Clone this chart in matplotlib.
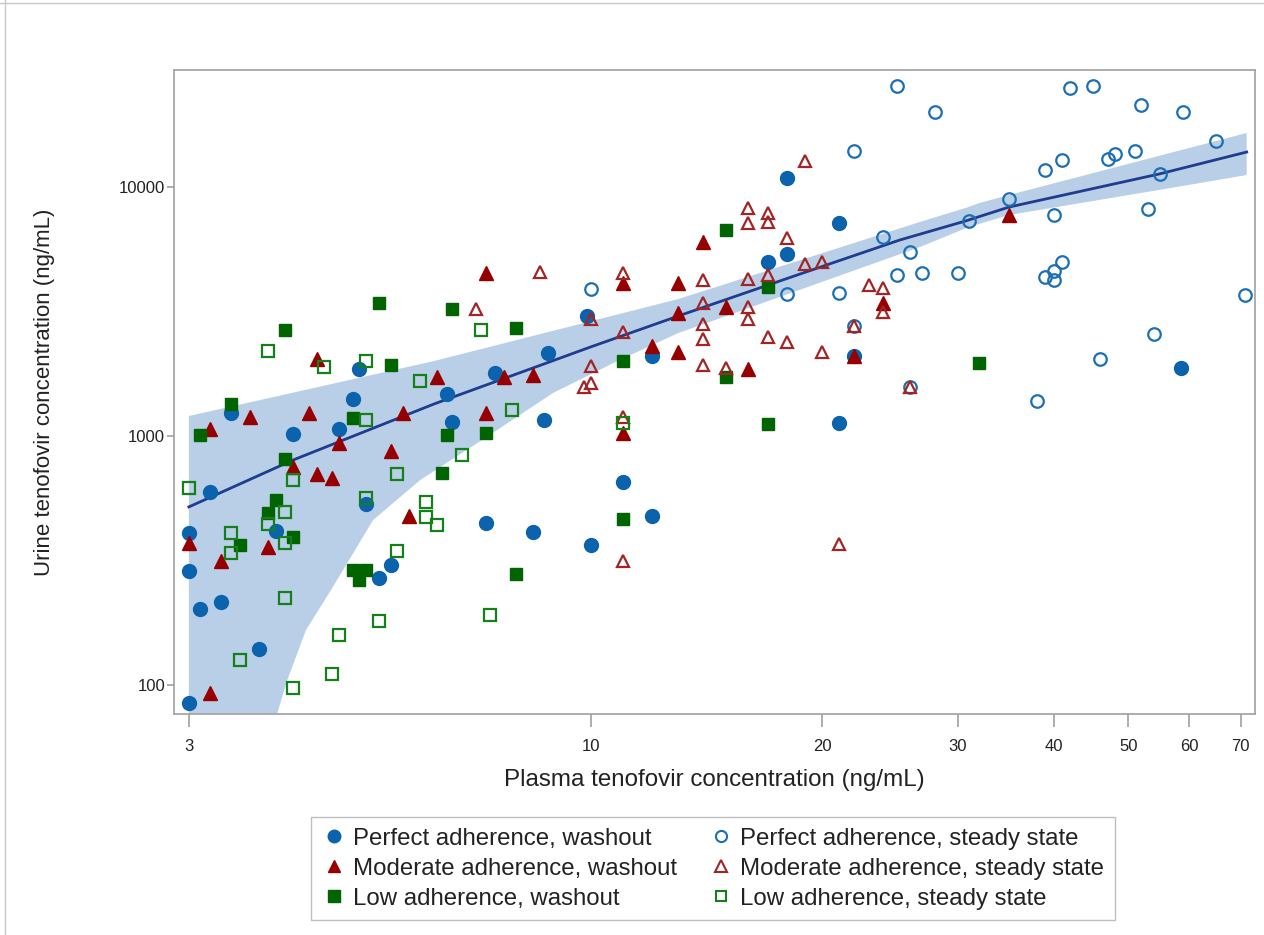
import numpy as np
import matplotlib.pyplot as plt
from matplotlib.lines import Line2D

plt.rcParams['font.family'] = ['Liberation Sans', 'DejaVu Sans']

# perfect adherence, washout (filled circles)
pw_x = [3.0, 3.0, 3.0, 3.1, 3.2, 3.3, 3.4, 3.7, 3.9, 4.1, 4.7, 4.9, 5.0, 5.1, 5.3, 5.5,
        6.5, 6.6, 7.3, 7.5, 8.4, 8.7, 8.8, 9.9, 10, 11, 12, 12, 17, 18, 18, 21, 21, 22, 58.6]
pw_y = [85, 287, 408, 202, 596, 215, 1237, 140, 415, 1019, 1067, 1409, 1858, 533, 269, 303,
        1476, 1138, 448, 1791, 411, 1160, 2154, 3033, 365, 653, 477, 2096, 5000, 5380, 10870,
        7170, 1128, 2096, 1875]

# perfect adherence, steady state (open circles)
ps_x = [10, 18, 21, 22, 22, 24, 25, 25, 26, 26, 27, 28, 30, 31, 35, 38, 39, 39, 40, 40, 40,
        41, 41, 42, 45, 46, 47, 48, 51, 52, 53, 54, 55, 59, 65, 71]
ps_y = [3895, 3718, 3753, 13950, 2766, 6300, 25400, 4430, 5480, 1574, 4520, 20000, 4520, 7300,
        8950, 1383, 11700, 4350, 7720, 4600, 4230, 12830, 5000, 25000, 25400, 2038, 12950,
        13570, 13950, 21300, 8160, 2570, 11270, 20000, 15300, 3684]

# moderate adherence, washout (filled triangles)
mw_x = [3.0, 3.2, 3.2, 3.3, 3.6, 3.8, 4.1, 4.3, 4.4, 4.4, 4.6, 4.7, 5.5, 5.7, 5.8, 6.3, 7.3,
        7.3, 7.7, 8.4, 11, 11, 12, 13, 13, 13, 14, 15, 16, 22, 24, 35]
mw_y = [372, 1067, 93, 315, 1192, 358, 751, 1237, 2038, 704, 678, 938, 871, 1237, 477, 1726,
        4520, 1237, 1726, 1758, 4115, 1028, 2298, 4115, 3119, 2175, 6010, 3300, 1858, 2096,
        3420, 7720]

# moderate adherence, steady state (open triangles)
ms_x = [7.1, 8.6, 9.8, 10, 10, 10, 11, 11, 11, 11, 14, 14, 14, 14, 14, 15, 16, 16, 16, 16, 16,
        17, 17, 17, 17, 18, 18, 19, 19, 20, 20, 21, 22, 23, 24, 24, 26]
ms_y = [3236, 4560, 1574, 2950, 1910, 1633, 4520, 2617, 1192, 315, 4230, 3420, 2818, 2452, 1928,
        1875, 8235, 7170, 4270, 3300, 2950, 7860, 7240, 4430, 2500, 6240, 2386, 12720, 4910,
        5000, 2175, 368, 2766, 4040, 3930, 3147, 1574]

# low adherence, washout (filled squares)
lw_x = [3.1, 3.4, 3.5, 3.8, 3.9, 4.0, 4.0, 4.1, 4.9, 4.9, 5.1, 5.0, 5.3, 5.5, 6.4, 6.5, 6.6,
        7.3, 8.0, 8.0, 11, 11, 15, 15, 17, 17, 32]
lw_y = [1009, 1344, 365, 491, 553, 2666, 809, 393, 1181, 290, 290, 264, 3420, 1928, 710, 1009,
        3236, 1028, 2715, 279, 2000, 465, 6720, 1726, 3966, 1117, 1964]

# low adherence, steady state (open squares)
ls_x = [3.0, 3.4, 3.4, 3.5, 3.8, 3.8, 4.0, 4.0, 4.0, 4.1, 4.1, 4.5, 4.6, 4.7, 5.1, 5.1, 5.1,
        5.3, 5.6, 5.6, 6.0, 6.1, 6.1, 6.3, 6.8, 7.2, 7.4, 7.9, 11]
ls_y = [618, 339, 408, 126, 2195, 444, 495, 372, 224, 666, 97, 1893, 111, 159, 2000, 1160, 564,
        181, 704, 345, 1663, 543, 473, 439, 839, 2666, 191, 1272, 1128]

# fitted curve and confidence band
fit_x = [3.0, 4.1, 6.25, 10.0, 13.1, 18.7, 25.2, 30.7, 35.0, 54.8, 71.3]
fit_y = [519, 801, 1344, 2280, 3060, 4470, 6120, 7300, 8310, 11270, 13820]
up_x = [3.0, 6.25, 13.0, 26.8, 31.0, 32.0, 35.0, 71.3]
up_y = [1203, 2000, 3550, 7240, 8310, 8620, 9290, 16480]
lo_x = [3.0, 3.7, 3.91, 4.03, 4.26, 4.62, 5.21, 6.0, 7.32, 8.93, 10.9, 13.0, 26.8, 31.0, 35.0,
        54.8, 71.3]
lo_y = [5, 40, 77, 105, 166, 248, 460, 666, 991, 1489, 2020, 2592, 5741, 6906, 7720, 9727, 11170]

xticks = [3, 10, 20, 30, 40, 50, 60, 70]
yticks = [100, 1000, 10000]

blue = '#0b63ad'
blue_open = '#1a6fb5'
red = '#960000'
red_open = '#a32424'
green = '#006400'
green_open = '#15801a'

fig = plt.figure(figsize=(12.64, 9.35), dpi=100)
ax = fig.add_axes([0.1377, 0.2364, 0.8552, 0.6887])
ax.set_xscale('log')
ax.set_yscale('log')

ax.fill(up_x + lo_x[::-1], up_y + lo_y[::-1], color='#b9cfe8', lw=0, zorder=1)
ax.plot(fit_x, fit_y, color='#1f3c8f', lw=2, zorder=2)

ms = 10
ax.plot(pw_x, pw_y, 'o', ms=ms, color=blue, mec=blue, ls='none', zorder=3)
ax.plot(mw_x, mw_y, '^', ms=ms, color=red, mec=red, ls='none', zorder=3)
ax.plot(lw_x, lw_y, 's', ms=ms - 1, color=green, mec=green, ls='none', zorder=3)
ax.plot(ps_x, ps_y, 'o', ms=ms - 1, mfc='none', mec=blue_open, mew=1.6, ls='none', zorder=4)
ax.plot(ms_x, ms_y, '^', ms=ms - 1, mfc='none', mec=red_open, mew=1.6, ls='none', zorder=4)
ax.plot(ls_x, ls_y, 's', ms=ms - 1.5, mfc='none', mec=green_open, mew=1.6, ls='none', zorder=4)

ax.set_xlim(2.87, 73.1)
ax.set_ylim(76.5, 29500)
ax.set_xticks(xticks)
ax.set_xticklabels([str(t) for t in xticks])
ax.set_yticks(yticks)
ax.set_yticklabels([str(t) for t in yticks])
ax.minorticks_off()
ax.tick_params(axis='x', length=9, width=1.2, color='#a0a0a0', pad=9, labelsize=12,
               labelcolor='#222222')
ax.tick_params(axis='y', length=5, width=1.2, color='#a0a0a0', pad=1.5, labelsize=12,
               labelcolor='#222222')
for sp in ax.spines.values():
    sp.set_color('#a0a0a0')
    sp.set_linewidth(1.2)

ax.set_xlabel('Plasma tenofovir concentration (ng/mL)', fontsize=17.4, color='#222222', labelpad=11)
ax.set_ylabel('Urine tenofovir concentration (ng/mL)', fontsize=16, color='#222222', labelpad=46)

handles = [
    Line2D([], [], marker='o', ls='none', ms=9, color=blue),
    Line2D([], [], marker='^', ls='none', ms=9, color=red),
    Line2D([], [], marker='s', ls='none', ms=8, color=green),
    Line2D([], [], marker='o', ls='none', ms=8, mfc='none', mec=blue_open, mew=1.5),
    Line2D([], [], marker='^', ls='none', ms=8, mfc='none', mec=red_open, mew=1.5),
    Line2D([], [], marker='s', ls='none', ms=7.5, mfc='none', mec=green_open, mew=1.5),
]
labels = ['Perfect adherence, washout', 'Moderate adherence, washout', 'Low adherence, washout',
          'Perfect adherence, steady state', 'Moderate adherence, steady state',
          'Low adherence, steady state']
leg = fig.legend(handles, labels, ncol=2, loc='upper center', bbox_to_anchor=(0.564, 0.1262),
                 borderaxespad=0, fontsize=17.3, frameon=True, fancybox=False,
                 edgecolor='#b0b0b0', handletextpad=0.3, columnspacing=1.3, labelspacing=0.33,
                 borderpad=0.45, handlelength=1.0)
leg.get_frame().set_linewidth(1.0)
for t in leg.get_texts():
    t.set_color('#222222')

# outer frame of the picture
fig.add_artist(Line2D([0, 1], [0.9968, 0.9968], transform=fig.transFigure, color='#c8c8c8', lw=1))
fig.add_artist(Line2D([0.004, 0.004], [0, 1], transform=fig.transFigure, color='#c8c8c8', lw=1))

fig.savefig('out.png', dpi=100)
